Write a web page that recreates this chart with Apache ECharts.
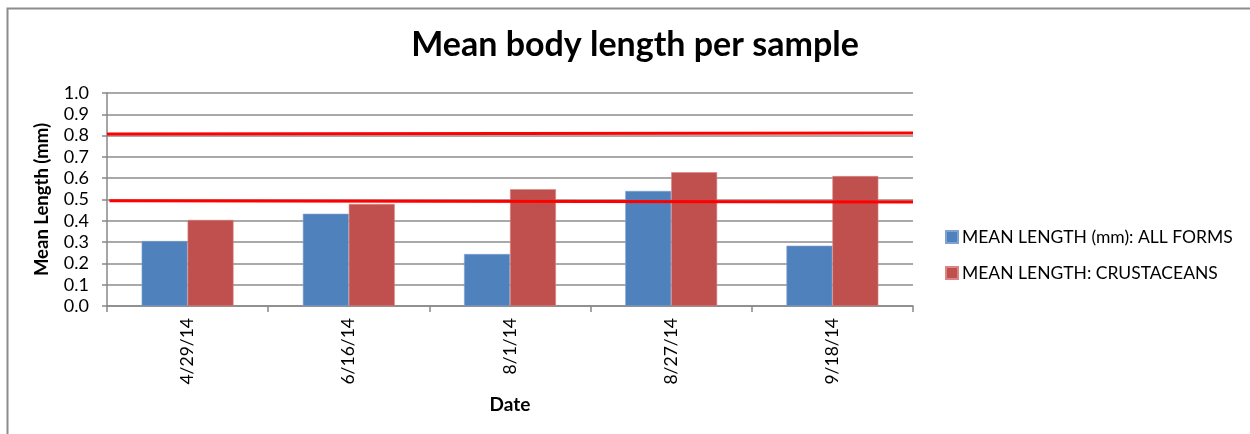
<!DOCTYPE html>
<html>
<head>
<meta charset="utf-8">
<style>
  html, body { margin: 0; padding: 0; background: #fff; }
  #chart { width: 1250px; height: 434px; }
</style>
<script src="https://cdn.jsdelivr.net/npm/echarts@6/dist/echarts.min.js"></script>
</head>
<body>
<div id="chart"></div>
<script>
// Sample dates and mean lengths (mm)
const dates = ['4/29/14', '6/16/14', '8/1/14', '8/27/14', '9/18/14'];
const allForms = [0.305, 0.433, 0.244, 0.540, 0.283];
const crustaceans = [0.404, 0.479, 0.548, 0.628, 0.610];
const yTicks = [0, 0.1, 0.2, 0.3, 0.4, 0.5, 0.6, 0.7, 0.8, 0.9, 1.0];

// Reference lines drawn across the plot (fraction of width, value)
const upperRef = [[0, 0.807], [1, 0.812]];
const lowerRef = [[0.003, 0.494], [1, 0.488]];

const FONT = 'Lato, "Open Sans", sans-serif';
const chart = echarts.init(document.getElementById('chart'));

chart.setOption({
  animation: false,
  backgroundColor: '#fff',
  textStyle: { fontFamily: FONT, color: '#000' },
  graphic: [{
    type: 'polyline',
    shape: { points: [[7.5, 440], [7.5, 8.5], [1260, 8.5]] },
    style: { stroke: '#8c8c8c', lineWidth: 2, fill: null },
    silent: true
  }],
  title: {
    text: 'Mean body length per sample',
    left: 630, top: 23, textAlign: 'center',
    textStyle: { fontFamily: FONT, fontSize: 34, fontWeight: 'bold', color: '#000' }
  },
  legend: {
    orient: 'vertical',
    left: 945, top: 228, padding: 0,
    itemWidth: 12, itemHeight: 12, itemGap: 18,
    icon: 'rect',
    textStyle: { fontFamily: FONT, fontSize: 17.5, color: '#000', padding: [0, 0, 0, -1] },
    data: ['MEAN LENGTH (mm): ALL FORMS', 'MEAN LENGTH: CRUSTACEANS']
  },
  grid: { left: 107, right: 337, top: 93, bottom: 128, containLabel: false },
  xAxis: [{
    type: 'category',
    data: dates,
    name: 'Date',
    nameLocation: 'middle',
    nameGap: 89,
    nameTextStyle: { fontFamily: FONT, fontSize: 19, fontWeight: 'bold', color: '#000' },
    axisLine: { lineStyle: { color: '#888', width: 1.5 } },
    axisTick: { show: true, length: 6, lineStyle: { color: '#888', width: 1.5 } },
    axisLabel: { rotate: 90, margin: 12, fontFamily: FONT, fontSize: 17.5, color: '#000' }
  }, {
    type: 'value', min: 0, max: 1, show: false
  }],
  yAxis: {
    type: 'value',
    min: 0, max: 1, interval: 0.1,
    name: 'Mean Length (mm)',
    nameLocation: 'middle',
    nameGap: 55,
    nameTextStyle: { fontFamily: FONT, fontSize: 18.5, fontWeight: 'bold', color: '#000' },
    axisLine: { show: true, lineStyle: { color: '#888', width: 1.5 } },
    axisTick: { show: true, length: 5, lineStyle: { color: '#888', width: 1.5 } },
    splitLine: { lineStyle: { color: '#8c8c8c', width: 1.5 } },
    axisLabel: {
      margin: 18, fontFamily: FONT, fontSize: 18, color: '#000',
      customValues: yTicks,
      formatter: v => v.toFixed(1)
    }
  },
  series: [{
    name: 'MEAN LENGTH (mm): ALL FORMS',
    type: 'bar',
    data: allForms,
    barGap: '0%',
    barCategoryGap: '43%',
    itemStyle: { color: '#4f81bd', borderColor: '#7fa3d0', borderWidth: 0.6 }
  }, {
    name: 'MEAN LENGTH: CRUSTACEANS',
    type: 'bar',
    data: crustaceans,
    barGap: '0%',
    barCategoryGap: '43%',
    itemStyle: { color: '#c0504d', borderColor: '#d88583', borderWidth: 0.6 }
  }, {
    type: 'line', xAxisIndex: 1,
    data: upperRef, symbol: 'none', silent: true,
    lineStyle: { color: '#ff0000', width: 3 }
  }, {
    type: 'line', xAxisIndex: 1,
    data: lowerRef, symbol: 'none', silent: true,
    lineStyle: { color: '#ff0000', width: 3 }
  }]
});
</script>
</body>
</html>
